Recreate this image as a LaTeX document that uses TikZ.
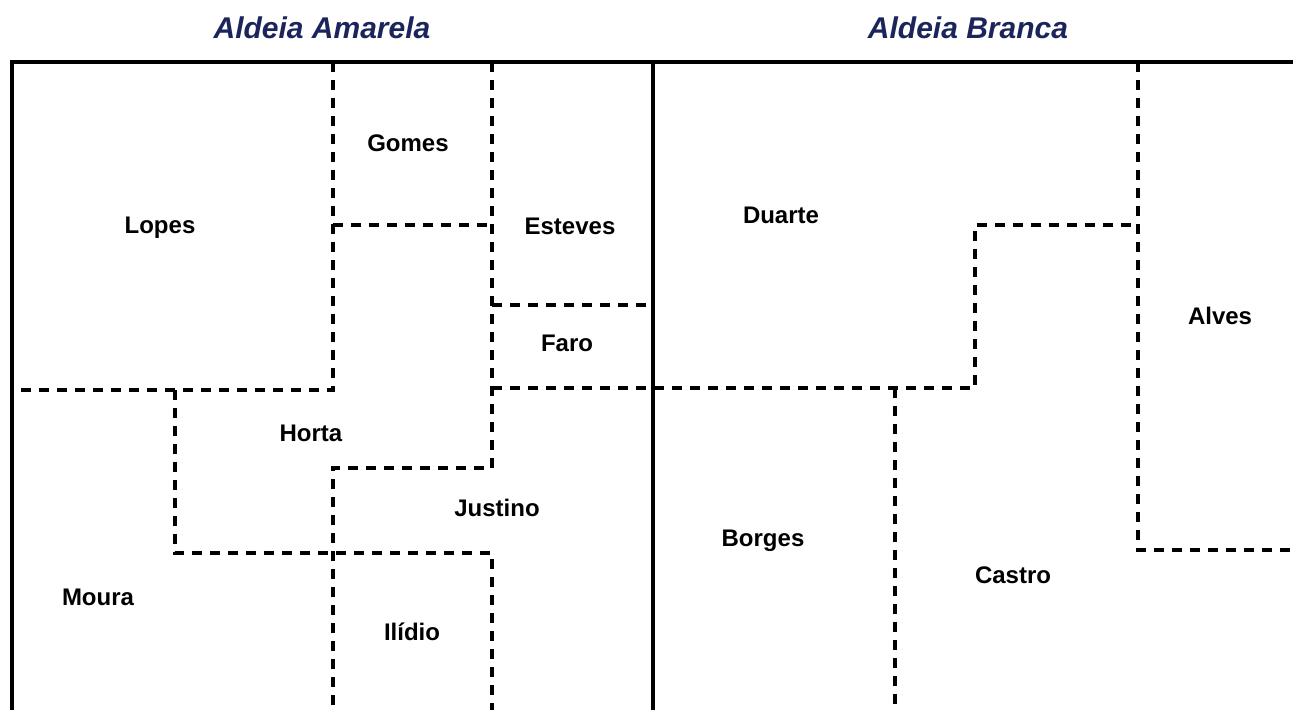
\documentclass[tikz,border=0pt]{standalone}
\usepackage{fontspec}
\setmainfont{Liberation Sans}
\definecolor{titleblue}{RGB}{28,36,92}
\tikzset{
  border/.style={line width=1.6pt},
  lot/.style={line width=1.9pt, dash pattern=on 5pt off 4pt},
  owner/.style={font=\fontsize{12}{14}\selectfont\bfseries},
  village/.style={font=\fontsize{15}{18}\selectfont\bfseries\itshape, text=titleblue}
}

\begin{document}
\begin{tikzpicture}[x=0.5pt,y=-0.5pt]
        \useasboundingbox (0,0) rectangle (1293,710);
        \node[village] (amarela) at (322,28) {Aldeia Amarela};
        \node[village] (branca) at (968,28) {Aldeia Branca};
        % frame and the line between the two villages
        \draw[border] (12,710) -- (12,62) -- (1293,62);
        \draw[border] (653,62) -- (653,710);
        % lots of Aldeia Amarela
        \draw[lot] (333,62) -- (333,390) -- (12,390);
        \draw[lot] (492,62) -- (492,468) -- (333,468) -- (333,710);
        \draw[lot] (333,225) -- (492,225);
        \draw[lot] (492,305) -- (653,305);
        \draw[lot] (175,390) -- (175,553) -- (492,553) -- (492,710);
        % lots of Aldeia Branca
        \draw[lot] (492,388) -- (975,388) -- (975,225) -- (1138,225);
        \draw[lot] (1138,62) -- (1138,550) -- (1293,550);
        \draw[lot] (895,388) -- (895,710);
        % owners
        \foreach \x/\y/\nm/\owner in {160/228/lopes/Lopes, 408/143/gomes/Gomes, 570/226/esteves/Esteves, 567/343/faro/Faro, 311/433/horta/Horta, 497/508/justino/Justino, 98/597/moura/Moura, 412/632/ilidio/Ilídio, 781/215/duarte/Duarte, 1220/316/alves/Alves, 763/541/borges/Borges, 1013/575/castro/Castro}{
            \node[owner] (\nm) at (\x,\y) {\owner};
        }
    \end{tikzpicture}
\end{document}
